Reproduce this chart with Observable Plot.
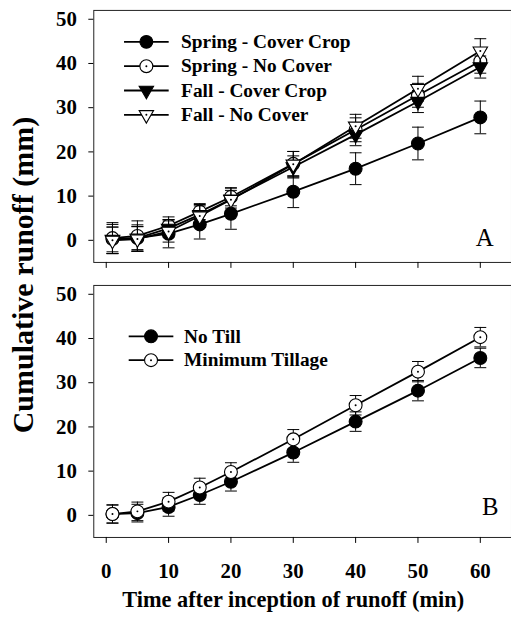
<!DOCTYPE html>
<html><head><meta charset="utf-8">
<script src="https://cdn.jsdelivr.net/npm/d3@7"></script>
<script src="https://cdn.jsdelivr.net/npm/@observablehq/plot@0.6"></script>
<style>
html,body{margin:0;padding:0;background:#fff;}
#wrap{position:relative;width:511px;height:622px;overflow:hidden;background:#fff;}
#wrap svg, #wrap figure{display:block;margin:0;}
#ylab{position:absolute;left:0;top:0;pointer-events:none;}
</style></head>
<body>
<div id="wrap"><div id="top"></div><div id="bottom"></div></div>
<script>
// ---- data ----
const time = [1, 5, 10, 15, 20, 30, 40, 50, 60];
const xTicks = [0, 10, 20, 30, 40, 50, 60];
const yTicks = [0, 10, 20, 30, 40, 50];

const springCoverCrop   = [0.3, 0.5, 1.5, 3.6, 6.0, 11.0, 16.2, 21.9, 27.8];
const springCoverCropSE = [3.3, 3.0, 3.2, 3.3, 3.5, 3.6, 3.6, 3.7, 3.7];
const springNoCover     = [0.5, 1.0, 3.3, 6.5, 9.8, 17.3, 25.0, 32.8, 40.5];
const springNoCoverSE   = [3.5, 3.4, 2.0, 1.8, 2.0, 2.8, 2.7, 2.7, 2.7];
const fallCoverCrop     = [0.2, 0.5, 2.7, 5.8, 9.3, 16.6, 23.9, 31.4, 39.2];
const fallCoverCropSE   = [2.8, 2.6, 2.0, 2.0, 2.0, 2.5, 2.5, 2.5, 2.5];
const fallNoCover       = [0.0, 0.3, 2.0, 5.5, 9.2, 17.2, 25.8, 34.3, 42.8];
const fallNoCoverSE     = [3.0, 2.8, 2.4, 2.6, 2.7, 2.9, 2.7, 2.8, 2.8];

const noTill            = [0.3, 0.5, 1.9, 4.6, 7.6, 14.2, 21.2, 28.2, 35.6];
const noTillSE          = [2.0, 2.0, 2.1, 2.1, 2.1, 2.2, 2.2, 2.3, 2.2];
const minimumTillage    = [0.3, 0.9, 3.1, 6.3, 9.8, 17.2, 24.9, 32.5, 40.3];
const minimumTillageSE  = [2.1, 2.1, 2.1, 2.1, 2.1, 2.2, 2.2, 2.3, 2.2];

const topLabels = ["Spring - Cover Crop", "Spring - No Cover", "Fall - Cover Crop", "Fall - No Cover"];
const bottomLabels = ["No Till", "Minimum Tillage"];
const panelLetters = ["A", "B"];
const xAxisTitle = "Time after inception of runoff (min)";
const yAxisTitle = "Cumulative runoff (mm)";

// ---- styles ----
const FONT = "'Liberation Serif', 'Times New Roman', serif";
const capSym = {draw(ctx) { ctx.moveTo(-6, 0); ctx.lineTo(6, 0); }};
const legLineSym = {draw(ctx) { ctx.moveTo(-22.5, 0); ctx.lineTo(22.5, 0); }};
const markers = {
  filledCircle: {symbol: "circle", r: 6.5, fill: "black", rotate: 0, open: false},
  openCircle:   {symbol: "circle", r: 6.5, fill: "white", rotate: 0, open: true},
  filledTri:    {symbol: "triangle", r: 5.4, fill: "black", rotate: 180, open: false},
  openTri:      {symbol: "triangle", r: 5.4, fill: "white", rotate: 180, open: true}
};

function table(values, se) { return time.map((t, i) => ({t, v: values[i], se: se[i]})); }

function seriesMarks(data, m) {
  const out = [
    Plot.ruleX(data, {x: "t", y1: d => d.v - d.se, y2: d => d.v + d.se, stroke: "black", strokeWidth: 1}),
    Plot.dot(data, {x: "t", y: d => d.v - d.se, symbol: capSym, fill: "none", stroke: "black", strokeWidth: 1}),
    Plot.dot(data, {x: "t", y: d => d.v + d.se, symbol: capSym, fill: "none", stroke: "black", strokeWidth: 1}),
    Plot.line(data, {x: "t", y: "v", stroke: "black", strokeWidth: 1.8}),
    Plot.dot(data, {x: "t", y: "v", symbol: m.symbol, r: m.r, rotate: m.rotate, fill: m.fill, stroke: "black", strokeWidth: 1.1})
  ];
  if (m.open) out.push(Plot.dot(data, {x: "t", y: "v", r: 1, fill: "black", stroke: "none"}));
  return out;
}

function legendMarks(labels, ms, o) {
  const out = [];
  labels.forEach((lab, i) => {
    const dy = o.dy0 + i * o.step, m = ms[i];
    out.push(Plot.dot([lab], {frameAnchor: "top-left", dx: o.dx, dy, symbol: legLineSym, fill: "none", stroke: "black", strokeWidth: 1.8}));
    out.push(Plot.dot([lab], {frameAnchor: "top-left", dx: o.dx, dy, symbol: m.symbol, r: m.r, rotate: m.rotate, fill: m.fill, stroke: "black", strokeWidth: 1.1}));
    if (m.open) out.push(Plot.dot([lab], {frameAnchor: "top-left", dx: o.dx, dy, r: 1, fill: "black", stroke: "none"}));
    out.push(Plot.text([lab], {frameAnchor: "top-left", dx: o.textDx, dy, text: d => d, textAnchor: "start", lineAnchor: "middle", fontSize: 19.5, fontWeight: "bold", fontFamily: FONT, fill: "black"}));
  });
  return out;
}

const common = {
  width: 515, marginLeft: 94, marginRight: 0,
  x: {domain: [-2, 65]},
  y: {domain: [-5, 52]},
  style: {fontFamily: FONT, fontWeight: "bold", fontSize: "21px", color: "black", background: "white"}
};
const axisFont = {fontSize: 21, fontWeight: "bold", fontFamily: FONT, fontVariant: "normal"};

// ---- top panel ----
const topMs = [markers.filledCircle, markers.openCircle, markers.filledTri, markers.openTri];
const topData = [
  table(springCoverCrop, springCoverCropSE),
  table(springNoCover, springNoCoverSE),
  table(fallCoverCrop, fallCoverCropSE),
  table(fallNoCover, fallNoCoverSE)
];
const topPlot = Plot.plot({
  ...common, height: 280, marginTop: 10, marginBottom: 16,
  marks: [
    Plot.frame({stroke: "#222", strokeWidth: 1}),
    Plot.axisY({ticks: yTicks, tickSize: 5, tickPadding: 12, label: null, ...axisFont}),
    Plot.axisX({ticks: xTicks, tickSize: 6, tickFormat: () => "", label: null}),
    ...topData.flatMap((d, i) => seriesMarks(d, topMs[i])),
    ...legendMarks(topLabels, topMs, {dx: 53, dy0: 31.7, step: 24.5, textDx: 88}),
    Plot.text([panelLetters[0]], {frameAnchor: "bottom-right", dx: -18, dy: -25, text: d => d, textAnchor: "end", lineAnchor: "middle", fontSize: 25, fontWeight: "normal", fontFamily: FONT, fill: "black"})
  ]
});
document.getElementById("top").appendChild(topPlot);

// ---- bottom panel ----
const botMs = [markers.filledCircle, markers.openCircle];
const botData = [table(noTill, noTillSE), table(minimumTillage, minimumTillageSE)];
const botPlot = Plot.plot({
  ...common, height: 342, marginTop: 7, marginBottom: 81,
  marks: [
    Plot.frame({stroke: "#222", strokeWidth: 1}),
    Plot.axisY({ticks: yTicks, tickSize: 5, tickPadding: 12, label: null, ...axisFont}),
    Plot.axisX({ticks: xTicks, tickSize: 6, tickPadding: 20, label: null, ...axisFont}),
    ...botData.flatMap((d, i) => seriesMarks(d, botMs[i])),
    ...legendMarks(bottomLabels, botMs, {dx: 57.7, dy0: 51.3, step: 24, textDx: 91}),
    Plot.text([panelLetters[1]], {frameAnchor: "bottom-right", dx: -13, dy: -31, text: d => d, textAnchor: "end", lineAnchor: "middle", fontSize: 25, fontWeight: "normal", fontFamily: FONT, fill: "black"}),
    Plot.text([xAxisTitle], {frameAnchor: "bottom", dx: -9.5, dy: 63, text: d => d, textAnchor: "middle", lineAnchor: "middle", fontSize: 22.5, fontWeight: "bold", fontFamily: FONT, fill: "black"})
  ]
});
document.getElementById("bottom").appendChild(botPlot);

// ---- shared y-axis title ----
const ov = d3.select("#wrap").append("svg").attr("id", "ylab").attr("width", 511).attr("height", 622);
ov.append("text")
  .attr("transform", "translate(22,275) rotate(-90)")
  .attr("text-anchor", "middle").attr("dominant-baseline", "central")
  .attr("font-family", FONT).attr("font-weight", "bold").attr("font-size", 30)
  .attr("fill", "black")
  .text(yAxisTitle);
</script>
</body></html>
